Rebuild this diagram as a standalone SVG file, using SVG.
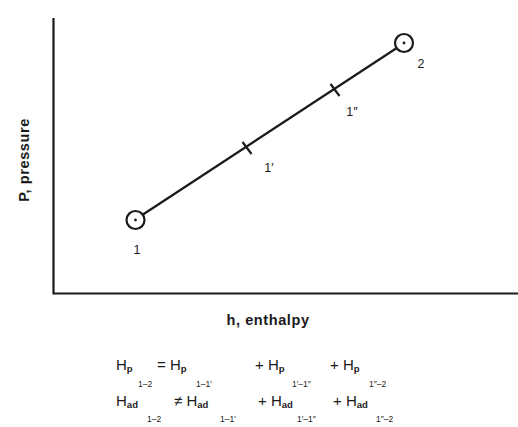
<svg xmlns="http://www.w3.org/2000/svg" width="518" height="427" viewBox="0 0 518 427">
<style>
text{font-family:"Liberation Sans",Arial,sans-serif;fill:#1a1a1a}
.lbl{font-size:12.5px}
.ax{font-size:14.5px;font-weight:bold;letter-spacing:0.6px}
.H{font-size:15px}
.s{font-size:9.5px;font-weight:bold}
.n{font-size:8.5px}
.pt{fill:none;stroke:#1a1a1a;stroke-width:2.2}
.ln{stroke:#1a1a1a;stroke-width:2.2;fill:none}
</style>
<rect width="518" height="427" fill="#fff"/>
<g id="axes">
<path class="ln" d="M53.5 18 V293.5 H518" stroke-width="2"/>
<text class="ax" x="268" y="325" text-anchor="middle">h, enthalpy</text>
<text class="ax" transform="translate(29,160) rotate(-90)" text-anchor="middle">P, pressure</text>
</g>
<g id="connectors">
<line class="ln" x1="143" y1="214.5" x2="396" y2="48.5"/>
<line class="ln" x1="242.5" y1="142" x2="251.5" y2="154" stroke-width="1.6"/>
<line class="ln" x1="330.5" y1="84" x2="339.5" y2="96" stroke-width="1.6"/>
</g>
<g id="node1">
<circle class="pt" cx="135.5" cy="220" r="9"/>
<circle cx="135.5" cy="220" r="1.4" fill="#1a1a1a"/>
<text class="lbl" x="137" y="254" text-anchor="middle">1</text>
</g>
<g id="node2">
<circle class="pt" cx="404" cy="43" r="9"/>
<circle cx="404" cy="43" r="1.4" fill="#1a1a1a"/>
<text class="lbl" x="421" y="68" text-anchor="middle">2</text>
</g>
<g id="node1p">
<text class="lbl" x="269" y="172" text-anchor="middle">1′</text>
</g>
<g id="node1pp">
<text class="lbl" x="352" y="116" text-anchor="middle">1″</text>
</g>
<g id="equations">
<text class="H" x="116" y="370">H<tspan class="s" dy="2">p</tspan></text>
<text class="n" x="138" y="387">1–2</text>
<text class="H" x="157" y="370">= H<tspan class="s" dy="2">p</tspan></text>
<text class="n" x="196" y="387">1–1′</text>
<text class="H" x="255" y="370">+ H<tspan class="s" dy="2">p</tspan></text>
<text class="n" x="292" y="387">1′–1″</text>
<text class="H" x="330" y="370">+ H<tspan class="s" dy="2">p</tspan></text>
<text class="n" x="369" y="387">1″–2</text>
<text class="H" x="116" y="406">H<tspan class="s" dy="2">ad</tspan></text>
<text class="n" x="147" y="422">1–2</text>
<text class="H" x="174" y="406">≠ H<tspan class="s" dy="2">ad</tspan></text>
<text class="n" x="220" y="422">1–1′</text>
<text class="H" x="258" y="406">+ H<tspan class="s" dy="2">ad</tspan></text>
<text class="n" x="297" y="422">1′–1″</text>
<text class="H" x="333" y="406">+ H<tspan class="s" dy="2">ad</tspan></text>
<text class="n" x="376" y="422">1″–2</text>
</g>
</svg>
